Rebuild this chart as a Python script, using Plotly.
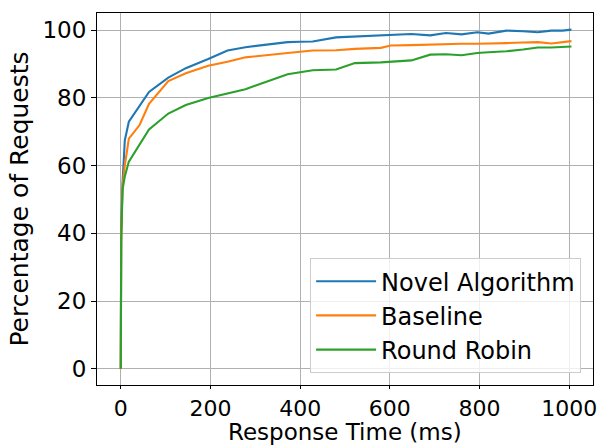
import plotly.graph_objects as go

response_ms = [0, 1, 4, 9, 18, 42, 63, 106, 145, 195, 238, 278, 372, 400, 428, 480, 522,
               580, 602, 648, 690, 725, 760, 795, 820, 860, 897, 930, 960, 985, 1005]
novel = [0, 41, 55, 67.5, 73, 77.5, 81.8, 86, 88.8, 91.5, 94, 95, 96.5, 96.6, 96.7, 97.9, 98.2,
         98.5, 98.7, 98.9, 98.5, 99.2, 98.8, 99.4, 99.0, 99.9, 99.7, 99.4, 99.9, 99.9, 100.2]
baseline = [0, 40, 54, 60, 68, 72, 78.3, 85, 87.3, 89.5, 90.7, 92, 93.3, 93.6, 94, 94.1, 94.5,
            94.8, 95.5, 95.6, 95.8, 95.9, 96, 96, 96, 96.2, 96.4, 96.5, 96.1, 96.5, 96.8]
round_robin = [0, 38, 53, 56.8, 61.2, 66.3, 70.7, 75.4, 77.9, 80, 81.3, 82.6, 87, 87.6, 88.2, 88.4, 90.3,
               90.5, 90.7, 91.1, 92.8, 92.9, 92.6, 93.3, 93.5, 93.8, 94.3, 94.9, 94.9, 95.0, 95.2]

series_names = ["Novel Algorithm", "Baseline", "Round Robin"]
colors = ["#1f77b4", "#ff7f0e", "#2ca02c"]
x_title = "Response Time (ms)"
y_title = "Percentage of Requests"

font = "DejaVu Sans"
fig = go.Figure()
for i, (name, vals, c) in enumerate(zip(series_names, [novel, baseline, round_robin], colors)):
    fig.add_trace(go.Scatter(x=response_ms, y=vals, mode="lines", name=name,
                             line=dict(color=c, width=2.1), legendgroup=f"g{i}"))

axis_common = dict(showline=True, linecolor="black", linewidth=1.2, mirror=True,
                   ticks="outside", tickwidth=1.2, tickcolor="black",
                   showgrid=True, gridcolor="#b0b0b0", gridwidth=1.1, zeroline=False,
                   automargin=False)

fig.update_layout(
    width=599, height=445,
    margin=dict(l=97, r=6, t=13, b=60),
    paper_bgcolor="white", plot_bgcolor="white",
    font=dict(family=font, color="black"),
    showlegend=True,
    legend=dict(x=0.976, y=0.032, xanchor="right", yanchor="bottom",
                bgcolor="rgba(255,255,255,0.8)", bordercolor="#cccccc", borderwidth=1,
                font=dict(family=font, size=24, color="black"),
                traceorder="grouped", tracegroupgap=0, itemwidth=60),
)
fig.update_xaxes(range=[-53, 1053], tickvals=[0, 200, 400, 600, 800, 1000], ticklen=3,
                 tickfont=dict(family=font, size=22, color="black"),
                 **axis_common)
fig.update_yaxes(range=[-4.8, 105.1], tickvals=[0, 20, 40, 60, 80, 100], ticklen=5,
                 tickfont=dict(family=font, size=23, color="black"),
                 title=dict(text=y_title, font=dict(family=font, size=25), standoff=6),
                 **axis_common)
fig.add_annotation(text=x_title, xref="paper", yref="paper", x=0.5, y=-0.127,
                   xanchor="center", yanchor="middle", showarrow=False, borderpad=0,
                   font=dict(family=font, size=23, color="black"))

fig.write_html("out.html")
